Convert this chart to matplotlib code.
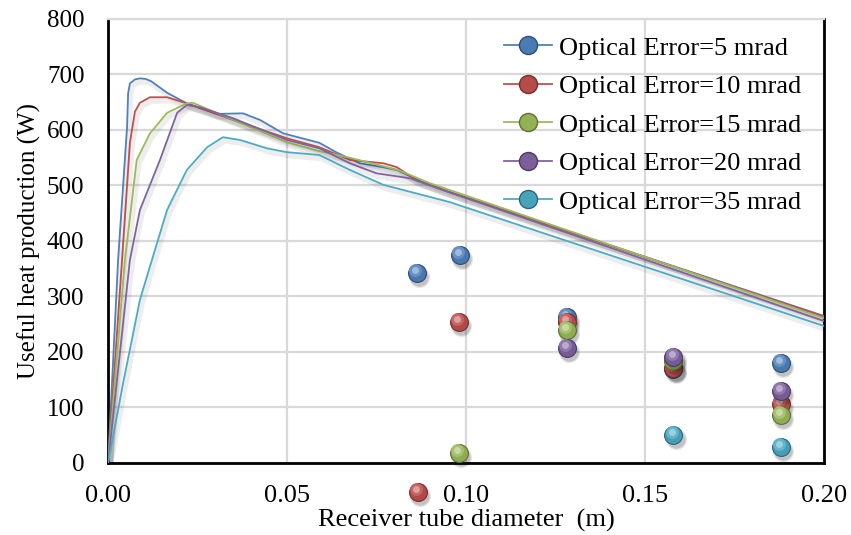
import numpy as np
import matplotlib
matplotlib.use("Agg")
from matplotlib import pyplot as plt
from matplotlib import transforms
from matplotlib.lines import Line2D
import matplotlib.patheffects as pe
import matplotlib.colors as mcolors

plt.rcParams['font.family'] = ['Liberation Serif', 'DejaVu Serif']

labels = ["Optical Error=5 mrad", "Optical Error=10 mrad", "Optical Error=15 mrad",
          "Optical Error=20 mrad", "Optical Error=35 mrad"]
colors = ["#4F81BD", "#C0504D", "#9BBB59", "#8064A2", "#4BACC6"]

# curves
x5 = [0, 0.0028, 0.0053, 0.0056, 0.0061, 0.0075, 0.0089, 0.0105, 0.012, 0.0165, 0.022, 0.0304,
      0.0377, 0.0425, 0.0489, 0.059, 0.064, 0.0704, 0.0768, 0.0807, 0.088, 0.0955, 0.20]
y5 = [0, 366, 605, 666, 684, 691, 693, 692, 688, 667, 648, 629, 630, 618, 594, 577, 559, 540,
      533, 528, 506, 488, 265]
x10 = [0, 0.0039, 0.0061, 0.0075, 0.0089, 0.0117, 0.0165, 0.022, 0.035, 0.05, 0.059, 0.0676,
       0.077, 0.0807, 0.086, 0.0955, 0.20]
y10 = [0, 366, 577, 633, 649, 659, 659, 648, 618, 585, 569, 546, 540, 533, 510, 488, 264]
x15 = [0, 0.0047, 0.008, 0.0117, 0.0165, 0.022, 0.0237, 0.035, 0.05, 0.059, 0.0676,
       0.081, 0.09, 0.20]
y15 = [0, 366, 546, 594, 631, 648, 649, 618, 578, 562, 550, 528, 504, 261]
x20 = [0, 0.0061, 0.0089, 0.0145, 0.0193, 0.022, 0.0257, 0.035, 0.05, 0.059, 0.0676,
       0.075, 0.0844, 0.092, 0.20]
y20 = [0, 366, 456, 546, 631, 645, 641, 621, 582, 567, 540, 522, 513, 495, 256]
x35 = [0, 0.0042, 0.0089, 0.0131, 0.0165, 0.022, 0.0277, 0.0321, 0.0369, 0.0444, 0.05,
       0.059, 0.0676, 0.077, 0.086, 0.0955, 0.20]
y35 = [0, 144, 294, 384, 456, 528, 569, 587, 582, 567, 560, 555, 528, 501, 486, 470, 247]

# separate points
px5 = [0.0863, 0.0983, 0.1282, 0.158, 0.188]
py5 = [342, 375, 263, 170, 180]
px10 = [0.0866, 0.098, 0.1282, 0.158, 0.188]
py10 = [-52, 254, 254, 172, 106]
px15 = [0.098, 0.1282, 0.158, 0.188]
py15 = [18, 240, 184, 86]
px20 = [0.1282, 0.158, 0.188]
py20 = [207, 191, 130]
px35 = [0.158, 0.188]
py35 = [50, 29]

curves = [(x5, y5), (x10, y10), (x15, y15), (x20, y20), (x35, y35)]
points = [(px5, py5), (px10, py10), (px15, py15), (px20, py20), (px35, py35)]


def balls(ax, fig, x, y, color, z):
    rgb = np.array(mcolors.to_rgb(color))
    sh = transforms.offset_copy(ax.transData, fig=fig, x=1.5, y=-3, units='points')
    hl = transforms.offset_copy(ax.transData, fig=fig, x=-1.2, y=2.0, units='points')
    ax.scatter(x, y, s=230, color='black', alpha=0.10, transform=sh, zorder=z, clip_on=False, lw=0)
    ax.scatter(x, y, s=175, color='black', alpha=0.15, transform=sh, zorder=z, clip_on=False, lw=0)
    ax.scatter(x, y, s=165, color=rgb * 0.92, edgecolor=rgb * 0.6, lw=0.8, zorder=z + 0.1, clip_on=False)
    ax.scatter(x, y, s=85, color=rgb * 0.85 + 0.15, alpha=0.9, lw=0, transform=hl, zorder=z + 0.15, clip_on=False)
    ax.scatter(x, y, s=25, color=rgb * 0.4 + 0.6, alpha=0.7, lw=0, transform=hl, zorder=z + 0.2, clip_on=False)


fig = plt.figure(figsize=(8.51, 5.35), dpi=100)
ax = fig.add_axes([0.127, 0.1346, 0.841, 0.8299])

shadow = [pe.SimpleLineShadow(offset=(1.5, -2.5), alpha=0.07, shadow_color='black', linewidth=4), pe.Normal()]
for (cx, cy), c in zip(curves, colors):
    ax.plot(cx, cy, color=c, lw=1.3, zorder=3, path_effects=shadow)

for i, ((qx, qy), c) in enumerate(zip(points, colors)):
    balls(ax, fig, qx, qy, c, 4 + i)

ax.set_xlim(0, 0.20)
ax.set_ylim(0, 800)
ax.set_xticks(np.arange(0, 0.201, 0.05))
ax.set_xticklabels(["0.00", "0.05", "0.10", "0.15", "0.20"])
ax.set_yticks(np.arange(0, 801, 100))
ax.grid(True, color='#d9d9d9', lw=1.6)
ax.set_axisbelow(True)
ax.tick_params(axis='y', length=0, labelsize=18, pad=17)
ax.tick_params(axis='x', length=0, labelsize=19, pad=16)
for s in ['left', 'bottom', 'right']:
    ax.spines[s].set_color('black')
    ax.spines[s].set_linewidth(2)
ax.spines['top'].set_color('#d9d9d9')
ax.spines['top'].set_linewidth(1.6)

ax.set_xlabel("Receiver tube diameter  (m)", fontsize=19, labelpad=1)
ax.set_ylabel("Useful heat production (W)", fontsize=18, labelpad=4)

handles = []
for c in colors:
    rgb = np.array(mcolors.to_rgb(c))
    handles.append(Line2D([0], [0], color=c, lw=1.3, marker='o', markersize=13,
                          markerfacecolor=rgb * 0.95, markeredgecolor=rgb * 0.6))
leg = ax.legend(handles, labels, loc='upper right', bbox_to_anchor=(0.995, 1.003), frameon=False,
                fontsize=19, handlelength=1.85, handletextpad=0.27, labelspacing=0.57,
                borderaxespad=0.3)

fig.savefig("out.png", dpi=100)
